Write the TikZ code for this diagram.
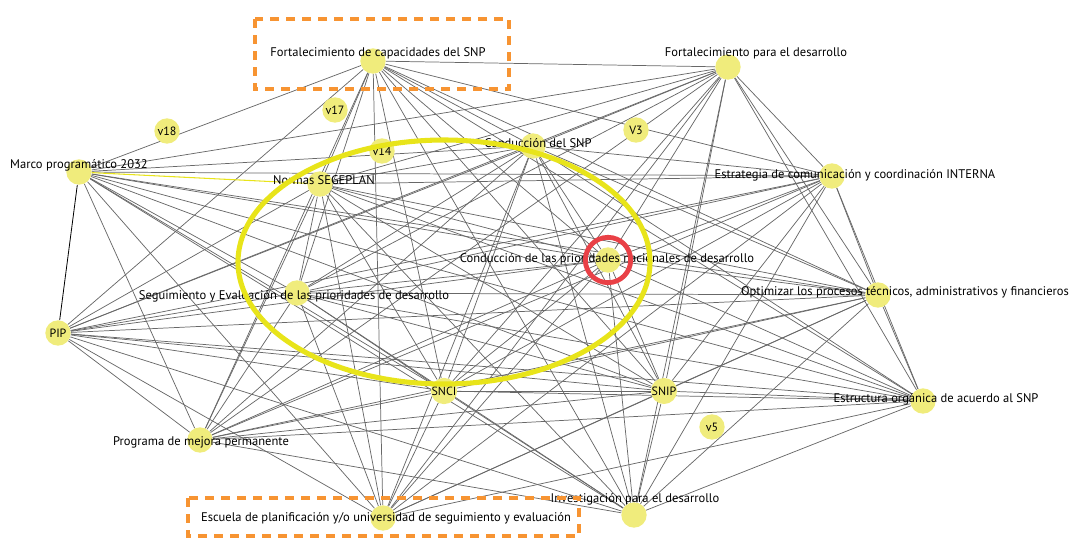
\documentclass[tikz,border=0pt]{standalone}
\usepackage{fontspec}
\setmainfont{PT Sans}
\definecolor{nodeyellow}{RGB}{240,236,124}
\definecolor{ringyellow}{RGB}{232,228,26}
\definecolor{ringred}{RGB}{233,64,70}
\definecolor{boxorange}{RGB}{247,148,50}
\definecolor{edgegray}{RGB}{104,104,104}
\pgfdeclarelayer{bg}
\pgfsetlayers{bg,main}
\tikzset{
  vert/.style={circle, fill=nodeyellow, minimum size=19pt, inner sep=0pt, font=\fontsize{9}{10}\selectfont},
  lbl/.style={inner sep=0pt, font=\fontsize{9.4}{11}\selectfont},
  edge/.style={draw=edgegray, line width=0.55pt},
  markbox/.style={draw=boxorange, line width=3pt, dash pattern=on 7pt off 5pt},
}
\begin{document}
\begin{tikzpicture}[x=0.75pt, y=-0.75pt]
\useasboundingbox (0,0) rectangle (1072,539);
% vertices
\node[vert] (F1) at (373,61) {};
\node[vert] (F2) at (728,67) {};
\node[vert] (CS) at (533,146) {};
\node[vert] (MP) at (79,172) {};
\node[vert] (NS) at (320,184) {};
\node[vert] (EC) at (832,176) {};
\node[vert] (CP) at (608,260) {};
\node[vert] (SE) at (297,293) {};
\node[vert] (OP) at (878,295) {};
\node[vert] (PIP) at (58,333) {PIP};
\node[vert] (SNCI) at (444,391) {SNCI};
\node[vert] (SNIP) at (664,391) {SNIP};
\node[vert] (EO) at (923,401) {};
\node[vert] (PM) at (200,440) {};
\node[vert] (EP) at (383,518) {};
\node[vert] (ID) at (634,515) {};
\node[vert] (v18) at (167,131) {v18};
\node[vert] (v17) at (335,110) {v17};
\node[vert] (v14) at (382,151) {v14};
\node[vert] (V3) at (636,130) {V3};
\node[vert] (v5) at (712,427) {v5};
% connectors
\begin{pgfonlayer}{bg}
\foreach \a/\others in {
  F1/{F2,CS,MP,NS,EC,CP,SE,OP,PIP,SNCI,SNIP,EO,PM,EP,ID},
  F2/{CS,MP,NS,EC,CP,SE,OP,PIP,SNCI,SNIP,EO,PM,EP,ID},
  CS/{MP,NS,EC,CP,SE,OP,PIP,SNCI,SNIP,EO,PM,EP,ID},
  MP/{EC,CP,SE,OP,SNCI,SNIP,EO,PM,EP,ID},
  NS/{EC,CP,SE,OP,PIP,SNCI,SNIP,EO,PM,EP,ID},
  EC/{CP,SE,OP,PIP,SNCI,SNIP,EO,PM,EP,ID},
  CP/{SE,OP,PIP,SNCI,SNIP,EO,PM,EP,ID},
  SE/{OP,PIP,SNCI,SNIP,EO,PM,EP,ID},
  OP/{PIP,SNCI,SNIP,EO,PM,EP,ID},
  PIP/{SNCI,SNIP,EO,PM,EP,ID},
  SNCI/{SNIP,EO,PM,EP,ID},
  SNIP/{EO,PM,EP,ID},
  EO/{PM,EP,ID},
  PM/{ID}}
  \foreach \b in \others
    \draw[edge] (\a) -- (\b);
\draw[ringyellow, line width=0.8pt] (MP) -- (NS);
\draw[black, line width=0.6pt] (MP) -- (PIP);
\end{pgfonlayer}
% labels
\node[lbl] (F1t) at (378,53) {Fortalecimiento de capacidades del SNP};
\node[lbl] (F2t) at (756,53) {Fortalecimiento para el desarrollo};
\node[lbl] (CSt) at (538,143) {Conducción del SNP};
\node[lbl] (MPt) at (79,165) {Marco programático 2032};
\node[lbl] (NSt) at (324,180) {Normas SEGEPLAN};
\node[lbl] (ECt) at (855,175) {Estrategia de comunicación y coordinación INTERNA};
\node[lbl] (CPt) at (607,259) {Conducción de las prioridades nacionales de desarrollo};
\node[lbl] (SEt) at (294,296) {Seguimiento y Evaluación de las prioridades de desarrollo};
\node[lbl] (OPt) at (905,292) {Optimizar los procesos técnicos, administrativos y financieros};
\node[lbl] (EOt) at (936,399) {Estructura orgánica de acuerdo al SNP};
\node[lbl] (PMt) at (201,442) {Programa de mejora permanente};
\node[lbl] (EPt) at (386,518) {Escuela de planificación y/o universidad de seguimiento y evaluación};
\node[lbl] (IDt) at (635,499) {Investigación para el desarrollo};
% highlights
\draw[ringyellow, line width=3.8pt] (444,262) ellipse [x radius=206, y radius=122];
\draw[ringred, line width=3.6pt] (CP) circle [radius=17pt];
\draw[markbox] (255,19) rectangle (509,89);
\draw[markbox] (188,498) rectangle (579,536);
\end{tikzpicture}
\end{document}
